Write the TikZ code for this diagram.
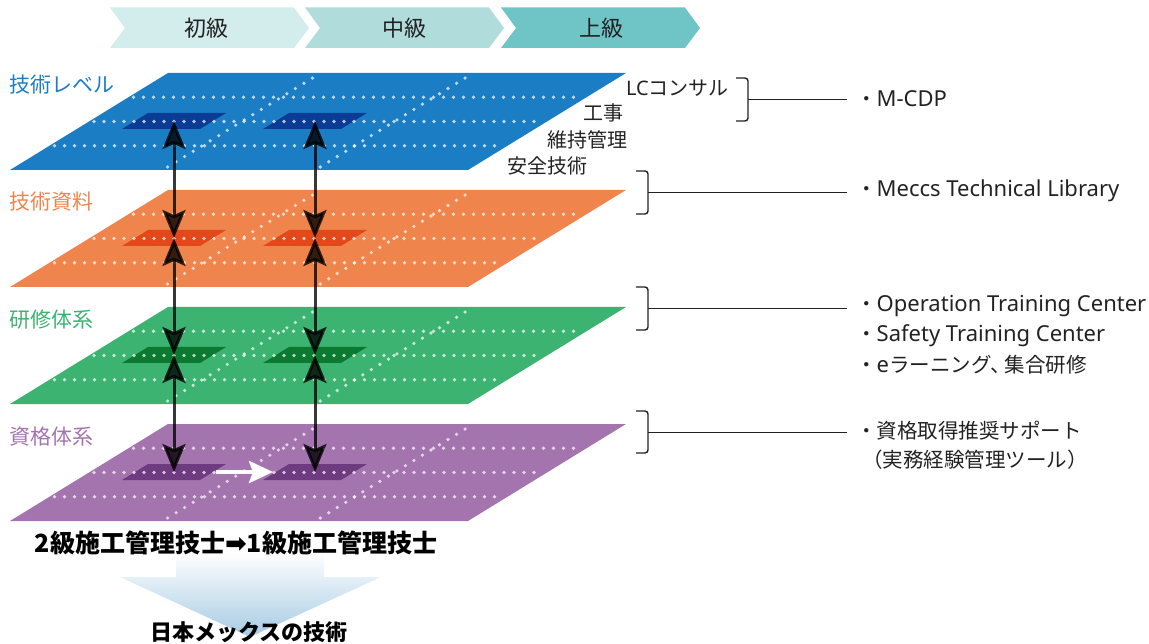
\documentclass[tikz,border=0pt]{standalone}
\usepackage{fontspec}
\setmainfont{Noto Sans CJK JP}
\newfontfamily\dejavu{DejaVu Sans}
\newfontfamily\latin{Noto Sans}
\newcommand\lat[1]{{\latin\fontsize{22}{22}\selectfont #1}}
\usetikzlibrary{arrows.meta}
\definecolor{chA}{HTML}{D3ECEC}
\definecolor{chB}{HTML}{B0DCDC}
\definecolor{chC}{HTML}{6FC5C6}
\definecolor{bluePl}{HTML}{1B7EC4}
\definecolor{blueSm}{HTML}{0A3C96}
\definecolor{orgPl}{HTML}{EF854C}
\definecolor{orgSm}{HTML}{E2481A}
\definecolor{grnPl}{HTML}{3DB371}
\definecolor{grnSm}{HTML}{0B7A30}
\definecolor{purPl}{HTML}{A374AE}
\definecolor{purSm}{HTML}{6E3A80}
\definecolor{arrBlue}{HTML}{A6CBE4}
\definecolor{ink}{HTML}{222222}
\begin{document}
\begin{tikzpicture}[x=1pt,y=-1pt,
  chev/.style={font=\fontsize{22}{22}\selectfont, text=ink, inner sep=0pt},
  layerlbl/.style={font=\fontsize{21}{21}\selectfont, inner sep=0pt, anchor=west},
  fieldlbl/.style={font=\fontsize{20}{20}\selectfont, text=ink, inner sep=0pt, anchor=east},
  itemlbl/.style={font=\fontsize{20.5}{20.5}\selectfont, text=ink, inner sep=0pt, anchor=west},
  dotline/.style={white, opacity=0.7, line width=3.6pt, dash pattern=on 0pt off 10pt, line cap=round},
  conn/.style={black, opacity=0.78, line width=3pt,
    arrows={Stealth[length=28pt,width=23pt,inset=5pt]-Stealth[length=28pt,width=23pt,inset=5pt]}},
  brk/.style={draw=ink, line width=1.4pt, rounded corners=3pt},
  lead/.style={draw=ink, line width=1.4pt}]
\useasboundingbox (0,0) rectangle (1149,644);

% level chevrons
\foreach \L/\c/\nm in {110/chA/c1, 305/chB/c2, 501/chC/c3}{
  \fill[\c] (\L,7.5) -- (\L+184,7.5) -- (\L+199,28) -- (\L+184,48) -- (\L,48) -- (\L+15,28) -- cycle;
}
\node[chev] (t1) at (206,28) {初級};
\node[chev] (t2) at (404,28) {中級};
\node[chev] (t3) at (601,28) {上級};

% layers
\foreach \T/\pc/\sc/\nm in {73/bluePl/blueSm/b, 190/orgPl/orgSm/o, 307/grnPl/grnSm/g, 424/purPl/purSm/p}{
  \fill[\pc] (168,\T) -- (626,\T) -- (468,\T+97) -- (10,\T+97) -- cycle;
  \fill[\sc] (148,\T+40) -- (226,\T+40) -- (200,\T+56) -- (122,\T+56) -- cycle;
  \fill[\sc] (289,\T+40) -- (367,\T+40) -- (341,\T+56) -- (263,\T+56) -- cycle;
  \coordinate (\nm1) at (174,\T+48);
  \coordinate (\nm2) at (315,\T+48);
  \foreach \r in {24.25,48.5,72.75}{
    \draw[dotline] ({168-1.629*\r+5},\T+\r) -- ({626-1.629*\r-5},\T+\r);
  }
  \draw[dotline] (167.6,\T+94) -- (315.8,\T+3);
  \draw[dotline] (320.2,\T+94) -- (468.4,\T+3);
}

% layer labels
\node[layerlbl, text=bluePl] (lb) at (9,85) {技術レベル};
\node[layerlbl, text=orgPl] (lo) at (9,202) {技術資料};
\node[layerlbl, text=grnPl] (lg) at (9,320) {研修体系};
\node[layerlbl, text=purPl] (lp) at (9,437) {資格体系};

% vertical connectors
\draw[conn] (b1) -- (o1);
\draw[conn] (o1) -- (g1);
\draw[conn] (g1) -- (p1);
\draw[conn] (b2) -- (o2);
\draw[conn] (o2) -- (g2);
\draw[conn] (g2) -- (p2);
\draw[white, line width=4.5pt, shorten <=42pt, shorten >=42pt,
  -{Stealth[length=24pt,width=22pt,inset=4pt]}] (p1) -- (p2);

% fields of the top layer
\node[fieldlbl] (f1) at (729,88) {{\latin LC}コンサル};
\node[fieldlbl] (f2) at (624,113) {工事};
\node[fieldlbl] (f3) at (628,140) {維持管理};
\node[fieldlbl] (f4) at (588,166) {安全技術};

% brackets and items
\draw[brk] (736,78) -- (748,78) -- (748,121) -- (736,121);
\draw[lead] (748,99.5) -- (847,99.5);
\node[itemlbl] (i1) at (856,99) {・\lat{M-CDP}};

\draw[brk] (636,171) -- (648,171) -- (648,214) -- (636,214);
\draw[lead] (648,192.5) -- (847,192.5);
\node[itemlbl] (i2) at (856,191) {・\lat{Meccs Technical Library}};

\draw[brk] (636,287) -- (648,287) -- (648,330) -- (636,330);
\draw[lead] (648,308.5) -- (847,308.5);
\node[itemlbl] (i3) at (856,306) {・\lat{Operation Training Center}};
\node[itemlbl] (i4) at (856,336) {・\lat{Safety Training Center}};
\node[itemlbl] (i5) at (856,365) {・\lat{e}ラーニング、\hspace{-0.3em}集合研修};

\draw[brk] (636,411) -- (648,411) -- (648,453) -- (636,453);
\draw[lead] (648,432.5) -- (847,432.5);
\node[itemlbl] (i6) at (856,431) {・資格取得推奨サポート};
\node[itemlbl] (i7) at (862,460) {（実務経験管理ツール）};

% bottom arrow
\shade[top color=white, bottom color=arrBlue]
  (176,552) -- (324,552) -- (324,577) -- (381,577) -- (250,637) -- (120,577) -- (176,577) -- cycle;
\node[font=\bfseries\fontsize{25}{25}\selectfont, text=black, inner sep=0pt] (q) at (236,543)
  {2級施工管理技士{\dejavu\fontsize{26}{26}\selectfont ➡}1級施工管理技士};
\node[font=\bfseries\fontsize{22}{22}\selectfont, text=black, inner sep=0pt] (r) at (249,632) {日本メックスの技術};
\end{tikzpicture}
\end{document}
